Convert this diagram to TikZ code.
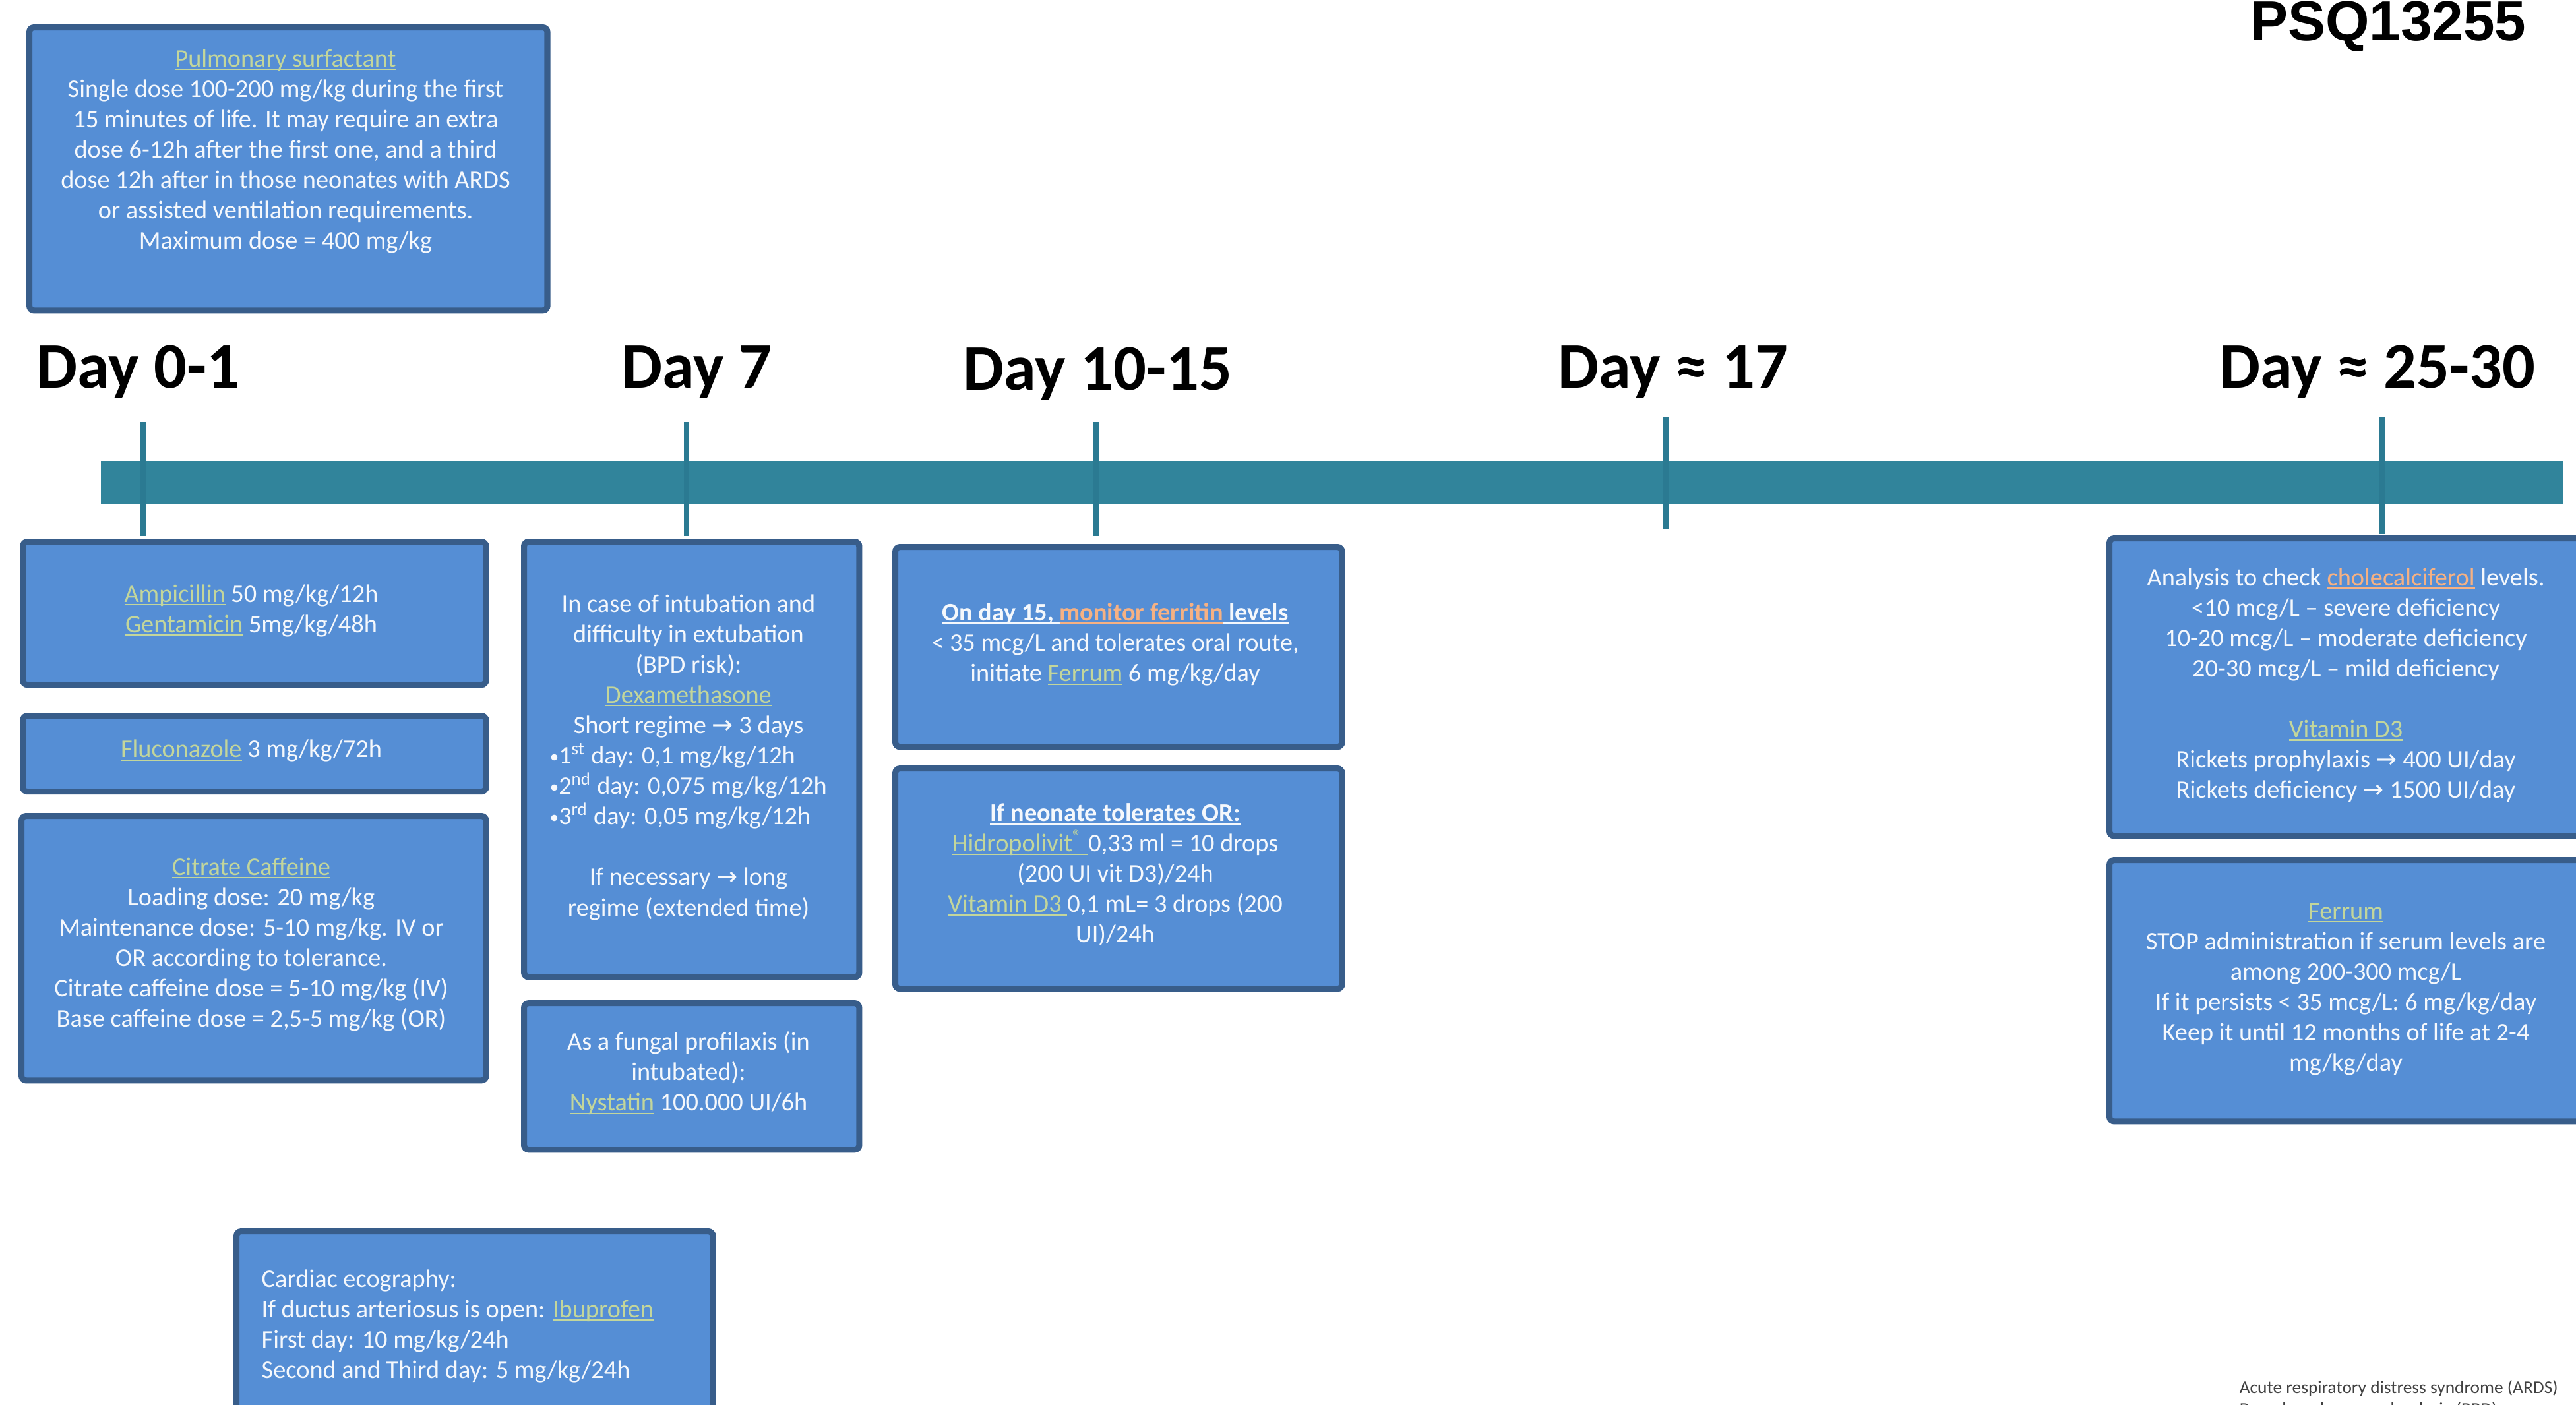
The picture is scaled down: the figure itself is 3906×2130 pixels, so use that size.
\documentclass[tikz,border=0pt]{standalone}
\usepackage{fontspec}
\usepackage{graphicx}
\setmainfont{Carlito}
\newfontfamily\arrfont{DejaVu Sans}
\newfontfamily\titlefont{Liberation Sans}
\definecolor{boxfill}{HTML}{558ED5}
\definecolor{boxline}{HTML}{385D8A}
\definecolor{barcol}{HTML}{31849B}
\definecolor{tickcol}{HTML}{2B7A92}
\definecolor{drugcol}{HTML}{C3D69B}
\definecolor{warncol}{HTML}{F6B183}
\definecolor{txtwhite}{HTML}{F5F8FC}
\definecolor{notecol}{HTML}{404040}
\newsavebox\myulbox
\newcommand{\uln}[1]{\sbox\myulbox{#1}\rlap{\rule[-1.4pt]{\wd\myulbox}{0.6pt}}\usebox\myulbox}
\newcommand{\drg}[1]{{\color{drugcol}\uln{#1}}}
\newcommand{\hil}[1]{{\color{warncol}\uln{#1}}}
\newcommand{\arw}{{\arrfont →}}
\newcommand{\smbul}{\raisebox{0.6pt}{\scalebox{0.7}{•}}}
\tikzset{
  panel/.style={draw=boxline, fill=boxfill, line width=2.6pt, rounded corners=2pt, anchor=north west, inner sep=0pt},
  body/.style={text=txtwhite, font=\fontsize{10.9pt}{13.1pt}\selectfont, align=center, inner sep=0pt, anchor=north,
    execute at begin node={\rule{0pt}{8pt}}},
  bodyleft/.style={body, align=left, anchor=north west},
  daylbl/.style={font=\bfseries\fontsize{28pt}{30pt}\selectfont, anchor=base west, inner sep=0pt, text=black},
  tickln/.style={draw=tickcol, line width=2.3pt},
  notetxt/.style={font=\fontsize{7.8pt}{9.5pt}\selectfont, text=notecol, anchor=base west, inner sep=0pt},
}
\begin{document}
\begin{tikzpicture}[x=0.01cm, y=-0.01cm]
\useasboundingbox (0,0) rectangle (3906,2130);
\clip (0,0) rectangle (3906,2130);
\fill[white] (0,0) rectangle (3906,2130);

% title
\node[font=\titlefont\bfseries\fontsize{24.3pt}{26pt}\selectfont, anchor=base east, inner sep=0pt] (title) at (3831,61) {PSQ13255};

% timeline bar
\node[fill=barcol, draw=none, minimum width=37.32cm, minimum height=0.65cm, anchor=north west, inner sep=0pt] (bar) at (152,698) {};

% ticks
\coordinate (t1a) at (217,640); \coordinate (t1b) at (217,813);
\coordinate (t2a) at (1041,640); \coordinate (t2b) at (1041,813);
\coordinate (t3a) at (1662,640); \coordinate (t3b) at (1662,813);
\coordinate (t4a) at (2526,633); \coordinate (t4b) at (2526,803);
\coordinate (t5a) at (3612,633); \coordinate (t5b) at (3612,810);
\draw[tickln] (t1a) -- (t1b);
\draw[tickln] (t2a) -- (t2b);
\draw[tickln] (t3a) -- (t3b);
\draw[tickln] (t4a) -- (t4b);
\draw[tickln] (t5a) -- (t5b);

% day labels
\node[daylbl] (d1) at (55,588) {Day 0-1};
\node[daylbl] (d2) at (942,588) {Day 7};
\node[daylbl] (d3) at (1460,591) {Day 10-15};
\node[daylbl] (d4) at (2362,588) {Day ≈ 17};
\node[daylbl] (d5) at (3365,588) {Day ≈ 25-30};

% panels
\node[panel, minimum width=7.85cm, minimum height=4.29cm] (pulm) at (40,37) {};
\node[panel, minimum width=7.02cm, minimum height=2.17cm] (amp) at (30,817) {};
\node[panel, minimum width=7.02cm, minimum height=1.15cm] (flu) at (30,1081) {};
\node[panel, minimum width=7.04cm, minimum height=4.01cm] (caf) at (28,1233) {};
\node[panel, minimum width=5.08cm, minimum height=6.60cm] (dex) at (790,817) {};
\node[panel, minimum width=5.08cm, minimum height=2.22cm] (nys) at (790,1517) {};
\node[panel, minimum width=6.77cm, minimum height=3.03cm] (fer) at (1353,825) {};
\node[panel, minimum width=6.77cm, minimum height=3.34cm] (neo) at (1353,1161) {};
\node[panel, minimum width=7.30cm, minimum height=4.51cm] (chol) at (3194,812) {};
\node[panel, minimum width=7.30cm, minimum height=3.96cm] (ferr) at (3194,1300) {};
\node[panel, minimum width=7.22cm, minimum height=4.00cm] (card) at (354,1863) {};

% texts
\node[body] (pulmt) at (433,74) {\drg{Pulmonary surfactant}\\
Single dose 100-200 mg/kg during the first\\
15 minutes of life. It may require an extra\\
dose 6-12h after the first one, and a third\\
dose 12h after in those neonates with ARDS\\
or assisted ventilation requirements.\\
Maximum dose = 400 mg/kg};

\node[body] (ampt) at (381,886) {\drg{Ampicillin} 50 mg/kg/12h\\
\drg{Gentamicin} 5mg/kg/48h};

\node[body] (flut) at (381,1120) {\drg{Fluconazole} 3 mg/kg/72h};

\node[body] (caft) at (381,1300) {\drg{Citrate Caffeine}\\
Loading dose: 20 mg/kg\\
Maintenance dose: 5-10 mg/kg. IV or\\
OR according to tolerance.\\
Citrate caffeine dose = 5-10 mg/kg (IV)\\
Base caffeine dose = 2,5-5 mg/kg (OR)};

\node[body] (dext) at (1044,901) {In case of intubation and\\
difficulty in extubation\\
(BPD risk):\\
\drg{Dexamethasone}\\
Short regime \arw{} 3 days\\
\makebox[119.5pt][l]{\smbul1\textsuperscript{st} day: 0,1 mg/kg/12h}\\
\makebox[119.5pt][l]{\smbul2\textsuperscript{nd} day: 0,075 mg/kg/12h}\\
\makebox[119.5pt][l]{\smbul3\textsuperscript{rd} day: 0,05 mg/kg/12h}\\[13.1pt]
If necessary \arw{} long\\
regime (extended time)};

\node[body] (nyst) at (1044,1564) {As a fungal profilaxis (in\\
intubated):\\
\drg{Nystatin} 100.000 UI/6h};

\node[body] (fert) at (1691,914) {\textbf{\uln{On day 15,\ }\hil{monitor ferritin}\uln{\ levels}}\\
< 35 mcg/L and tolerates oral route,\\
initiate \drg{Ferrum} 6 mg/kg/day};

\node[body] (neot) at (1691,1218) {\textbf{\uln{If neonate tolerates OR:}}\\
\drg{Hidropolivit\textsuperscript{®}\ }0,33 ml = 10 drops\\
(200 UI vit D3)/24h\\
\drg{Vitamin D3\ }0,1 mL= 3 drops (200\\
UI)/24h};

\node[body] (cholt) at (3557,861) {Analysis to check \hil{cholecalciferol} levels.\\
<10 mcg/L – severe deficiency\\
10-20 mcg/L – moderate deficiency\\
20-30 mcg/L – mild deficiency\\[13.1pt]
\drg{Vitamin D3}\\
Rickets prophylaxis \arw{} 400 UI/day\\
Rickets deficiency \arw{} 1500 UI/day};

\node[body] (ferrt) at (3557,1369) {\drg{Ferrum}\\
STOP administration if serum levels are\\
among 200-300 mcg/L\\
If it persists < 35 mcg/L: 6 mg/kg/day\\
Keep it until 12 months of life at 2-4\\
mg/kg/day};

\node[bodyleft] (cardt) at (396,1925) {Cardiac ecography:\\
If ductus arteriosus is open: \drg{Ibuprofen}\\
First day: 10 mg/kg/24h\\
Second and Third day: 5 mg/kg/24h};

% footnote
\node[notetxt] (note1) at (3395,2113) {Acute respiratory distress syndrome (ARDS)};
\node[notetxt] (note2) at (3395,2146) {Bronchopulmonary dysplasia (BPD)};
\end{tikzpicture}
\end{document}
